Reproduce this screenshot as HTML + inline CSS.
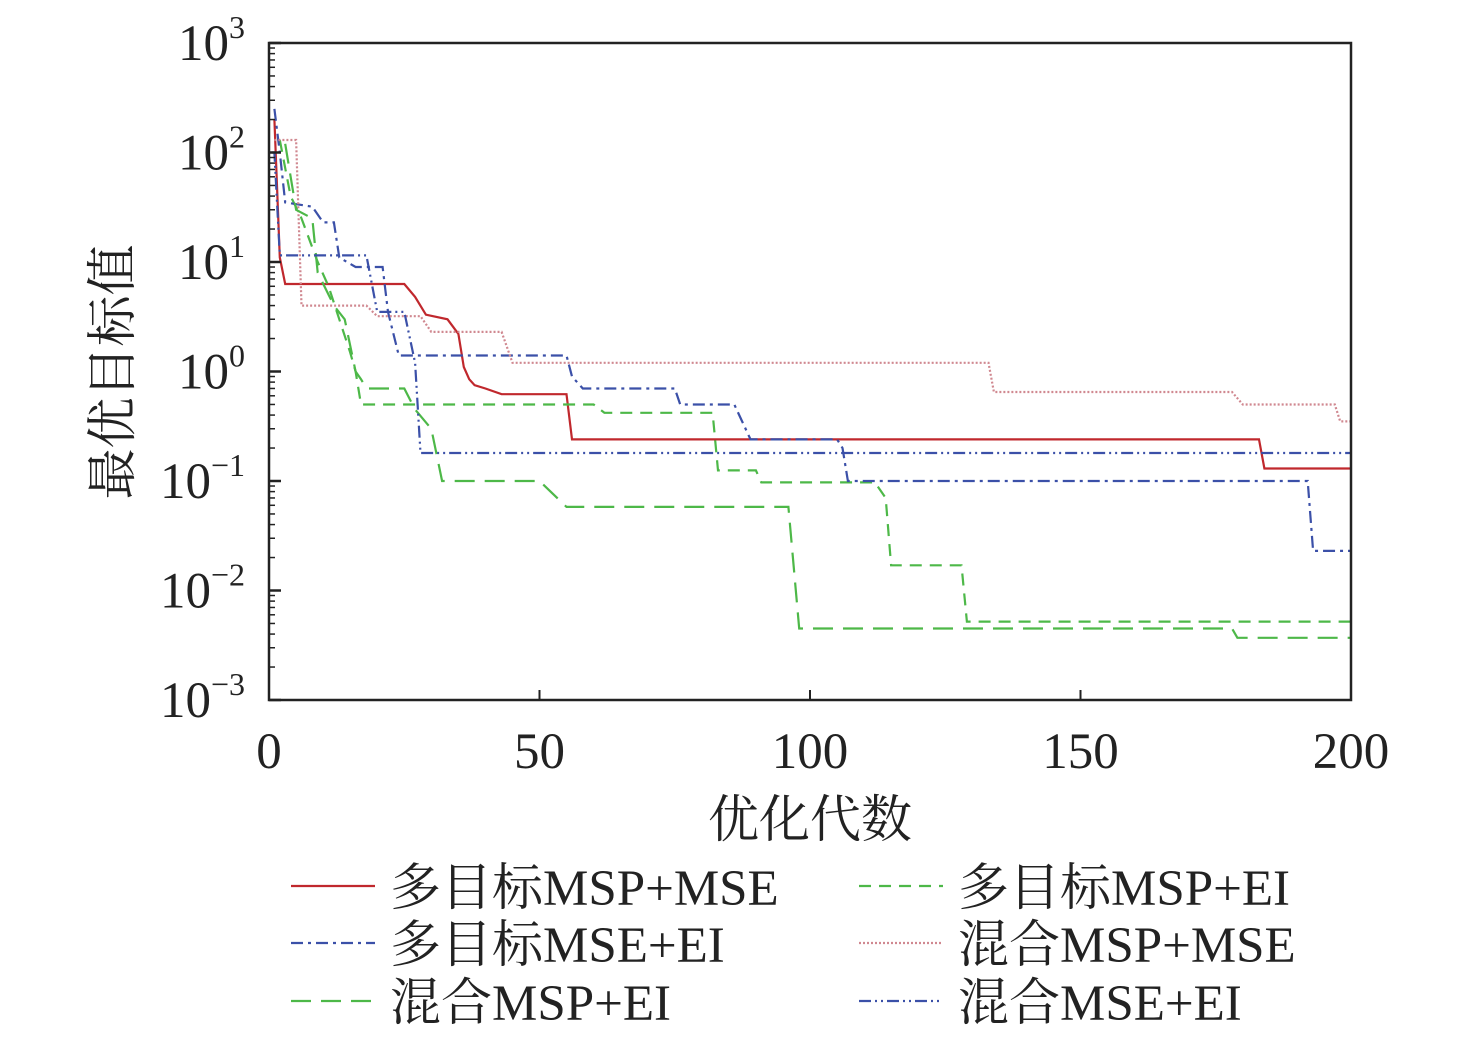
<!DOCTYPE html>
<html><head><meta charset="utf-8"><style>
body{margin:0;background:#fff}
svg text{font-family:"Liberation Serif","Noto Serif CJK SC",serif;fill:#222}
</style></head><body>
<svg id="c" width="1476" height="1038" xmlns="http://www.w3.org/2000/svg"></svg>
<script>
const xTicks=[0,50,100,150,200];
const yExps=[-3,-2,-1,0,1,2,3];
const s1x=[1,2,3,25,27,29,33,35,36,37,38,40,43,55,56,183,184,200];
const s1y=[200,11,6.3,6.3,4.8,3.3,3.0,2.2,1.1,0.85,0.75,0.7,0.62,0.62,0.24,0.24,0.13,0.13];
const s2x=[2,4,6,9,11,13,15,16,17,60,62,82,83,90,91,112,114,115,128,129,200];
const s2y=[130,40,25,10,6,3,1.5,1.0,0.5,0.5,0.42,0.42,0.125,0.125,0.097,0.097,0.07,0.017,0.017,0.0052,0.0052];
const s3x=[1,2,3,8,10,12,13,16,17,21,22,24,25,55,56,58,75,76,86,89,105,106,107,192,193,200];
const s3y=[250,100,35,32,23,23,11,9,9,9,3.5,1.4,1.4,1.4,0.9,0.7,0.7,0.5,0.5,0.24,0.24,0.2,0.1,0.1,0.023,0.023];
const s4x=[1,2,5,6,18,20,28,30,43,45,133,134,178,180,197,198,200];
const s4y=[130,130,130,4,4,3.2,3.2,2.3,2.3,1.2,1.2,0.65,0.65,0.5,0.5,0.35,0.35];
const s5x=[3,5,8,9,12,14,16,17,18,25,27,30,32,50,55,96,98,178,179,200];
const s5y=[120,30,25,8,4,3,1.0,0.85,0.7,0.7,0.45,0.3,0.1,0.1,0.058,0.058,0.0045,0.0045,0.0037,0.0037];
const s6x=[0.5,1,2,18,20,25,27,28,200];
const s6y=[100,100,11.5,11.5,3.5,3.5,1.2,0.18,0.18];
const X0=269,X1=1351,YT=43,YB=700;
const sx=v=>X0+(v/200)*(X1-X0);
const sy=v=>YT+(3-Math.log10(v))*(YB-YT)/6;
const svg=document.getElementById('c');
const NS='http://www.w3.org/2000/svg';
function mk(t,a,txt){const e=document.createElementNS(NS,t);for(const k in a)e.setAttribute(k,a[k]);if(txt!=null)e.textContent=txt;svg.appendChild(e);return e;}
const series=[
 {x:s1x,y:s1y,c:'#c0282d',d:'',n:'series-mo-msp-mse'},
 {x:s2x,y:s2y,c:'#4db848',d:'12,8',n:'series-mo-msp-ei'},
 {x:s3x,y:s3y,c:'#3b50a8',d:'12,5,3,5',n:'series-mo-mse-ei'},
 {x:s4x,y:s4y,c:'#d08890',d:'2,2',n:'series-hy-msp-mse'},
 {x:s5x,y:s5y,c:'#4db848',d:'20,10',n:'series-hy-msp-ei'},
 {x:s6x,y:s6y,c:'#3b50a8',d:'12,4,2,4,2,4',n:'series-hy-mse-ei'}];
series.forEach(s=>{
 let p=s.x.map((v,i)=>sx(v).toFixed(1)+','+sy(s.y[i]).toFixed(1)).join(' ');
 const e=mk('polyline',{points:p,fill:'none',stroke:s.c,'stroke-width':2.2,'stroke-dasharray':s.d});
 
 
});
const fr=mk('rect',{x:X0,y:YT,width:X1-X0,height:YB-YT,fill:'none',stroke:'#222','stroke-width':2.5});


xTicks.forEach(t=>{
 mk('line',{x1:sx(t),x2:sx(t),y1:YB,y2:YB-10,stroke:'#222','stroke-width':2});
 const e=mk('text',{x:sx(t),y:YB+68,'font-size':51,'text-anchor':'middle'},t);
 
 
});
yExps.forEach(k=>{
 mk('line',{x1:X0,x2:X0+12,y1:sy(Math.pow(10,k)),y2:sy(Math.pow(10,k)),stroke:'#222','stroke-width':2.5});
 if(k<3)for(let m=2;m<10;m++){const yy=sy(m*Math.pow(10,k));mk('line',{x1:X0,x2:X0+6,y1:yy,y2:yy,stroke:'#222','stroke-width':1.5});}
 const e=mk('text',{x:X0-24,y:sy(Math.pow(10,k))+17,'font-size':51,'text-anchor':'end'});
 
 
 e.textContent='10';
 const ts=document.createElementNS(NS,'tspan');ts.setAttribute('dy',-22);ts.setAttribute('font-size',32);
 ts.textContent=k<0?'−'+(-k):String(k);
 e.appendChild(ts);
});
const yl=mk('text',{x:0,y:0,'font-size':51,'text-anchor':'middle',transform:'translate(130,372) rotate(-90)'},'最优目标值');


const xl=mk('text',{x:810,y:837,'font-size':51,'text-anchor':'middle'},'优化代数');


const leg=[[0,0,0,'多目标MSP+MSE'],[1,1,0,'多目标MSP+EI'],[2,0,1,'多目标MSE+EI'],[3,1,1,'混合MSP+MSE'],[4,0,2,'混合MSP+EI'],[5,1,2,'混合MSE+EI']];
const rows=[886,943,1001];
leg.forEach(([i,c,r,t])=>{
 const lx=c?859:291,tx=c?958:390,yy=rows[r];
 const s=series[i];
 const ln=mk('line',{x1:lx,x2:lx+84,y1:yy,y2:yy,stroke:s.c,'stroke-width':2.2,'stroke-dasharray':s.d});
 
 
 const e=mk('text',{x:tx,y:yy+19,'font-size':51},t);
 
 
});
</script>
</body></html>
